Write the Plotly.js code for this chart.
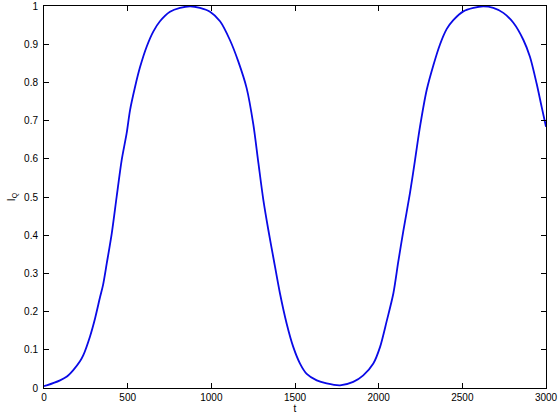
<!DOCTYPE html>
<html>
<head>
<meta charset="utf-8">
<script src="https://cdn.plot.ly/plotly-3.0.1.min.js"></script>
<style>
  html, body { margin: 0; padding: 0; background: #fff; }
  #graph { width: 560px; height: 420px; }
</style>
</head>
<body>
<div id="graph"></div>
<script>
/* valores: t y I_Q */
const tiempos = [0, 16, 96, 137, 175, 215, 235, 275, 305, 335, 353, 375, 405, 434, 464, 494, 514, 544, 574, 614,
    653, 693, 753, 813, 873, 932, 992, 1052, 1111, 1161, 1211, 1251, 1281, 1311, 1341, 1370, 1410, 1450, 1490, 1530,
    1570, 1630, 1689, 1769, 1848, 1908, 1968, 2008, 2048, 2088, 2117, 2147, 2187, 2217, 2247, 2287, 2327, 2367, 2407, 2446,
    2506, 2566, 2625, 2685, 2745, 2805, 2865, 2904, 2944, 2974, 3000];
const valoresIQ = [0.005, 0.007, 0.02, 0.03, 0.047, 0.07, 0.086, 0.135, 0.182, 0.238, 0.27, 0.326, 0.405, 0.50, 0.596, 0.667, 0.727, 0.788, 0.84, 0.894,
    0.933, 0.96, 0.985, 0.995, 0.999, 0.995, 0.985, 0.96, 0.911, 0.855, 0.785, 0.69, 0.59, 0.492, 0.413, 0.343, 0.248, 0.169, 0.107, 0.064,
    0.037, 0.02, 0.012, 0.007, 0.016, 0.033, 0.064, 0.107, 0.175, 0.248, 0.33, 0.41, 0.51, 0.596, 0.684, 0.78, 0.845, 0.9, 0.94, 0.963,
    0.986, 0.995, 0.999, 0.995, 0.982, 0.956, 0.911, 0.867, 0.797, 0.736, 0.684];

const xTicks = [0, 500, 1000, 1500, 2000, 2500, 3000];
const yTicks = [0, 0.1, 0.2, 0.3, 0.4, 0.5, 0.6, 0.7, 0.8, 0.9, 1];
const yTickText = ['0', '0.1', '0.2', '0.3', '0.4', '0.5', '0.6', '0.7', '0.8', '0.9', '1'];

const fuente = {family: 'Liberation Sans, Arial, sans-serif', size: 10, color: '#000'};

const ejeComun = {
    showline: true,
    linecolor: '#000',
    linewidth: 1,
    mirror: 'ticks',
    ticks: 'inside',
    ticklen: 5,
    tickcolor: '#000',
    showgrid: false,
    zeroline: false,
    tickfont: fuente
};

const layout = {
    width: 560,
    height: 420,
    margin: {l: 44, r: 14, t: 6, b: 32},
    paper_bgcolor: '#fff',
    plot_bgcolor: '#fff',
    showlegend: false,
    font: fuente,
    xaxis: Object.assign({}, ejeComun, {
        range: [0, 3000],
        tickvals: xTicks,
        ticktext: xTicks.map(String),
        title: {text: 't', font: fuente, standoff: 0}
    }),
    yaxis: Object.assign({}, ejeComun, {
        range: [0, 1],
        tickvals: yTicks,
        ticktext: yTickText,
        ticklabelstandoff: 3,
        title: {text: 'I<sub>Q</sub>', font: fuente, standoff: 6}
    })
};

Plotly.newPlot('graph', [{
    type: 'scatter',
    mode: 'lines',
    x: tiempos,
    y: valoresIQ,
    line: {color: 'rgb(10,10,230)', width: 1.8, shape: 'spline', smoothing: 0.8}
}], layout, {staticPlot: true, displayModeBar: false});
</script>
</body>
</html>
